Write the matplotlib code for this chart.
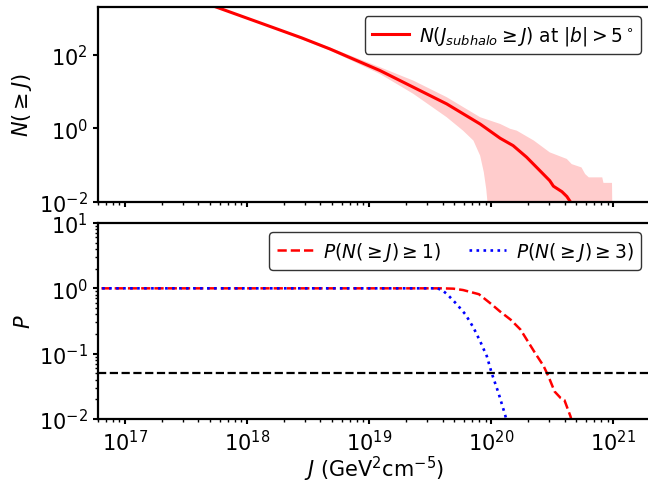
import numpy as np
import matplotlib
matplotlib.use('Agg')
import matplotlib.pyplot as plt

# N(>=J) median curve (log10 values)
logJ_med = [17.5, 17.74, 18.2, 18.45, 18.68, 19.09, 19.363, 19.636, 19.91, 20.074, 20.18,
            20.29, 20.40, 20.48, 20.51, 20.58, 20.62, 20.65, 20.70]
logN_med = [3.6, 3.31, 2.76, 2.46, 2.16, 1.573, 1.12, 0.667, 0.12, -0.267, -0.467,
            -0.78, -1.15, -1.42, -1.57, -1.72, -1.85, -2.0, -2.5]

# band edges
logJ_up = [17.5, 18.2, 18.68, 19.09, 19.363, 19.636, 19.91, 20.074, 20.156, 20.21,
           20.35, 20.48, 20.62, 20.66, 20.74, 20.77, 20.80, 20.91, 20.92, 20.99, 20.995]
logN_up = [3.62, 2.78, 2.2, 1.665, 1.30, 0.85, 0.305, 0.122, -0.01, -0.06,
           -0.33, -0.65, -0.83, -0.97, -1.06, -1.24, -1.33, -1.33, -1.48, -1.48, -3.0]
logJ_lo = [17.5, 18.2, 18.68, 19.09, 19.363, 19.636, 19.77, 19.855, 19.91, 19.94,
           19.96, 19.97, 19.98]
logN_lo = [3.58, 2.74, 2.12, 1.48, 0.94, 0.305, -0.06, -0.33, -0.74, -1.19,
           -1.65, -2.0, -3.0]

# detection probabilities
logJ_p1 = [16.7, 19.6, 19.69, 19.77, 19.90, 20.005, 20.07, 20.16, 20.24, 20.29,
           20.36, 20.43, 20.47, 20.52, 20.57, 20.60, 20.65, 20.67]
logP_p1 = [0, 0, -0.005, -0.026, -0.09, -0.246, -0.35, -0.48, -0.63, -0.78,
           -0.99, -1.19, -1.35, -1.58, -1.68, -1.71, -1.96, -2.1]
logJ_p3 = [16.7, 19.56, 19.60, 19.64, 19.72, 19.79, 19.855, 19.91, 19.965, 20.005,
           20.06, 20.115, 20.13]
logP_p3 = [0, 0, -0.03, -0.09, -0.246, -0.4, -0.6, -0.81, -1.04, -1.30,
           -1.60, -1.94, -2.05]
p_thresh = 0.05

J_med, N_med = 10**np.array(logJ_med), 10**np.array(logN_med)
J_up, N_up = 10**np.array(logJ_up), 10**np.array(logN_up)
J_lo, N_lo = 10**np.array(logJ_lo), 10**np.array(logN_lo)

plt.rcParams['axes.linewidth'] = 1.6
for a in ['xtick', 'ytick']:
    plt.rcParams[a + '.major.width'] = 1.5
    plt.rcParams[a + '.minor.width'] = 1.0
    plt.rcParams[a + '.labelsize'] = 15

fig = plt.figure(figsize=(6.48, 4.85), dpi=100)
ax1 = fig.add_axes([97.7/648, 1-203/485, 552.3/648, 195/485])
ax2 = fig.add_axes([97.7/648, 1-420/485, 552.3/648, 196/485], sharex=ax1)

ax1.fill(np.concatenate([J_up, J_lo[::-1]]), np.concatenate([N_up, N_lo[::-1]]),
         color='r', alpha=0.2, lw=0)
ax1.plot(J_med, N_med, 'r-', lw=2.2, label=r'$N(J_{subhalo} \geq J)$ at $|b|>5^\circ$')
ax1.set_xscale('log')
ax1.set_yscale('log')
ax1.set_ylim(1e-2, 2e3)
ax1.set_xlim(6e16, 2e21)
ax1.set_ylabel(r'$N(\geq J)$', fontsize=15)
ax1.tick_params(labelbottom=False)
ax1.legend(loc='upper right', fontsize=13.4, edgecolor='k', handletextpad=0.5)

ax2.plot(10**np.array(logJ_p1), 10**np.array(logP_p1), 'r--', lw=1.8,
         label=r'$P(N(\geq J)\geq 1)$')
ax2.plot(10**np.array(logJ_p3), 10**np.array(logP_p3), 'b:', lw=1.9,
         label=r'$P(N(\geq J)\geq 3)$')
ax2.axhline(p_thresh, color='k', ls='--', lw=1.6)
ax2.set_yscale('log')
ax2.set_ylim(1e-2, 1e1)
ax2.set_ylabel(r'$P$', fontsize=15)
ax2.set_xlabel(r'$J$ (GeV$^2$cm$^{-5}$)', fontsize=15, labelpad=0)
ax2.legend(loc='upper right', ncol=2, fontsize=13.4, edgecolor='k',
           handletextpad=0.5, columnspacing=1.5)

fig.savefig('out.png', dpi=100)
